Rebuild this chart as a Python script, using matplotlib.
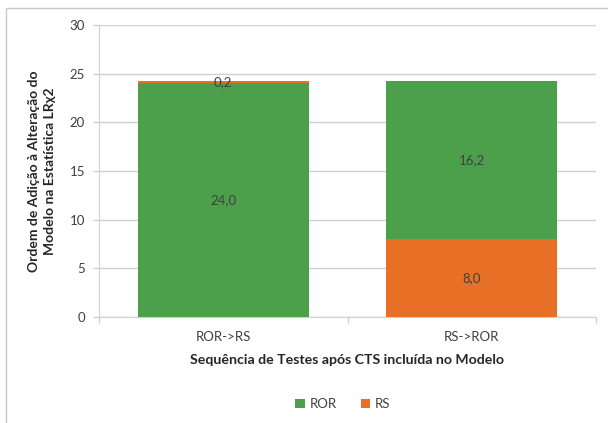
import matplotlib
matplotlib.use("Agg")
import matplotlib.pyplot as plt
from matplotlib.patches import Rectangle

categories = ["ROR->RS", "RS->ROR"]
ror = [24.0, 16.2]
rs = [0.2, 8.0]
ror_bottom = [0.0, 8.0]
rs_bottom = [24.0, 0.0]
yticks = [0, 5, 10, 15, 20, 25, 30]

green = "#4CA04B"
orange = "#E87026"
txt = "#404040"
grid = "#D0D0D0"
fam = ["Lato", "DejaVu Sans"]
plt.rcParams["font.family"] = fam

fig = plt.figure(figsize=(6.08, 4.23), dpi=100)
fig.patches.append(Rectangle((6/608, -0.01), 1.1, 1 - 8/423 + 0.01, transform=fig.transFigure,
                             fill=False, edgecolor="#C8C8C8", linewidth=1.0))
ax = fig.add_axes([99/608, 1-317/423, 497/608, 292/423])

x = range(len(categories))
ax.bar(x, ror, bottom=ror_bottom, width=0.69, color=green, label="ROR", zorder=3)
ax.bar(x, rs, bottom=rs_bottom, width=0.69, color=orange, label="RS", zorder=3)

for i in x:
    ax.text(i, ror_bottom[i] + ror[i]/2, f"{ror[i]:.1f}".replace(".", ","), ha="center", va="center",
            fontsize=9.5, color=txt, zorder=4)
    ax.text(i, rs_bottom[i] + rs[i]/2, f"{rs[i]:.1f}".replace(".", ","), ha="center", va="center",
            fontsize=9.5, color=txt, zorder=4)

ax.set_xlim(-0.5, 1.5)
ax.set_ylim(0, 30)
ax.set_yticks(yticks)
ax.set_yticklabels([str(v) for v in yticks], fontsize=9.5, color=txt)
ax.set_xticks(list(x))
ax.set_xticklabels(categories, fontsize=9.5, color=txt)
ax.set_xticks([-0.5, 0.5, 1.5], minor=True)
ax.tick_params(axis="x", which="major", length=0, pad=10)
ax.tick_params(axis="x", which="minor", length=4, color=grid, width=1)
ax.tick_params(axis="y", length=4, color=grid, width=1, pad=6)
ax.yaxis.grid(True, color=grid, linewidth=1, zorder=0)
ax.set_axisbelow(True)
for s in ["top", "right"]:
    ax.spines[s].set_visible(False)
ax.spines["left"].set_color(grid)
ax.spines["bottom"].set_color(grid)

ax.set_xlabel("Sequência de Testes após CTS incluída no Modelo", fontsize=10.2, fontweight="bold",
              color="#262626", labelpad=8)
ax.set_ylabel("Ordem de Adição à Alteração do\nModelo na Estatística LRχ2", fontsize=10,
              fontweight="bold", color="#262626", labelpad=10, linespacing=1.35)

fig.legend(loc="center", bbox_to_anchor=(343/608, 1-404/423), ncol=2, frameon=False,
           fontsize=9.5, handlelength=0.7, handleheight=0.7, columnspacing=1.8, handletextpad=0.4,
           labelcolor=txt)

fig.savefig("out.png", dpi=100)
